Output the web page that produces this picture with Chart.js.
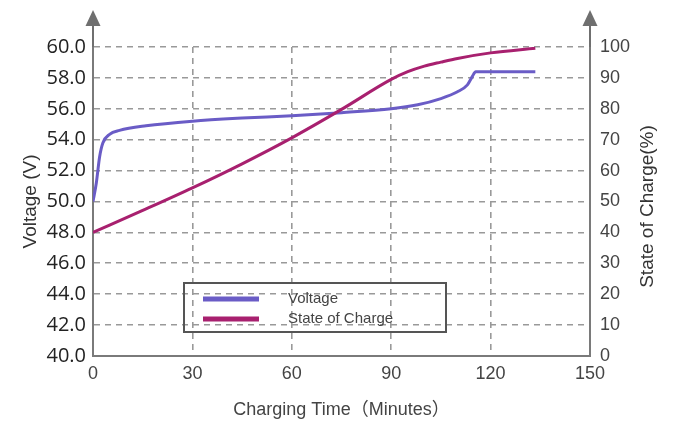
<!DOCTYPE html>
<html>
<head>
<meta charset="utf-8">
<title>Charging curve</title>
<script src="https://cdn.jsdelivr.net/npm/chart.js@4.4.1/dist/chart.umd.min.js"></script>
<style>
  html, body { margin: 0; padding: 0; background: #fff; }
  #wrap { width: 693px; height: 427px; position: relative; }
</style>
</head>
<body>
<div id="wrap"><canvas id="chart"></canvas></div>
<script>
// Datos
const voltTime = [0, 1, 2, 3, 5, 8, 16, 30, 45, 60, 75, 90, 98, 105, 110, 113, 114.5, 115.5, 133.5];
const voltage  = [50.0, 51.2, 52.9, 53.8, 54.35, 54.6, 54.9, 55.2, 55.4, 55.55, 55.75, 56.0, 56.26, 56.66, 57.1, 57.55, 58.1, 58.4, 58.4];

const socTime = [0, 15, 30, 45, 60, 75, 90, 95, 100, 105, 110, 120, 133.5];
const soc     = [40, 47.1, 54.4, 62.2, 70.6, 79.8, 89.5, 92.0, 93.8, 95.1, 96.3, 98.1, 99.6];

const seriesNames = ['Voltage', 'State of Charge'];
const seriesColors = ['#6a5cc6', '#a8206f'];
const rightTitle = 'State of Charge(%)';

const axisColor = '#7a7a7a';
const gridColor = '#999';

// Flechas en la parte superior de los ejes verticales
const axisArrows = {
  id: 'axisArrows',
  afterDraw(chart) {
    const { ctx, chartArea } = chart;
    ctx.save();
    ctx.strokeStyle = '#6f6f6f';
    ctx.fillStyle = '#6f6f6f';
    ctx.lineWidth = 2;
    [chartArea.left, chartArea.right].forEach(x => {
      ctx.beginPath();
      ctx.moveTo(x, chartArea.top);
      ctx.lineTo(x, 24);
      ctx.stroke();
      ctx.beginPath();
      ctx.moveTo(x - 7.5, 26);
      ctx.lineTo(x, 10);
      ctx.lineTo(x + 7.5, 26);
      ctx.closePath();
      ctx.fill();
    });
    // título del eje derecho, leído de abajo hacia arriba
    ctx.translate(648, (chartArea.top + chartArea.bottom) / 2 + 5);
    ctx.rotate(-Math.PI / 2);
    ctx.fillStyle = '#333';
    ctx.font = '19px "Liberation Sans", Arial, sans-serif';
    ctx.textAlign = 'center';
    ctx.textBaseline = 'middle';
    ctx.fillText(rightTitle, 0, 0);
    ctx.restore();
  }
};

// Leyenda dibujada dentro del área del gráfico
const boxLegend = {
  id: 'boxLegend',
  afterDraw(chart) {
    const ctx = chart.ctx;
    ctx.save();
    ctx.strokeStyle = '#555';
    ctx.lineWidth = 2;
    ctx.strokeRect(184, 283, 262, 49);
    ctx.font = '15px "Liberation Sans", Arial, sans-serif';
    ctx.textBaseline = 'middle';
    chart.data.datasets.forEach((ds, i) => {
      const y = 299 + i * 20;
      ctx.strokeStyle = ds.borderColor;
      ctx.lineWidth = 5;
      ctx.beginPath();
      ctx.moveTo(203, y);
      ctx.lineTo(259, y);
      ctx.stroke();
      ctx.fillStyle = '#444';
      ctx.fillText(ds.label, 288, y);
    });
    ctx.restore();
  }
};

new Chart(document.getElementById('chart'), {
  type: 'line',
  data: {
    datasets: [
      {
        label: seriesNames[0],
        data: voltTime.map((t, i) => ({ x: t, y: voltage[i] })),
        yAxisID: 'y',
        borderColor: seriesColors[0],
        borderWidth: 3,
        pointRadius: 0,
        cubicInterpolationMode: 'monotone',
        order: 2,
      },
      {
        label: seriesNames[1],
        data: socTime.map((t, i) => ({ x: t, y: soc[i] })),
        yAxisID: 'y2',
        borderColor: seriesColors[1],
        borderWidth: 3,
        pointRadius: 0,
        cubicInterpolationMode: 'monotone',
        order: 1,
      },
    ],
  },
  plugins: [axisArrows, boxLegend],
  options: {
    responsive: true,
    maintainAspectRatio: false,
    animation: false,
    layout: { padding: { top: 47, left: 0, right: 0, bottom: 0 } },
    plugins: { legend: { display: false }, tooltip: { enabled: false } },
    scales: {
      x: {
        type: 'linear',
        min: 0,
        max: 150,
        afterFit: scale => { scale.height = 71; },
        ticks: {
          stepSize: 30,
          padding: 7,
          color: '#444',
          font: { family: '"Liberation Sans", Arial, sans-serif', size: 18 },
        },
        grid: {
          drawTicks: false,
          color: ctx => (ctx.tick && (ctx.tick.value === 0 || ctx.tick.value === 150)) ? 'rgba(0,0,0,0)' : gridColor,
          lineWidth: 1.6,
        },
        border: { color: axisColor, width: 2, dash: [6, 5] },
        title: {
          display: true,
          text: 'Charging Time（Minutes）',
          color: '#444',
          font: { family: '"Liberation Sans", Arial, "Noto Sans CJK SC", sans-serif', size: 18 },
          padding: { top: 0, bottom: 6 },
        },
      },
      y: {
        position: 'left',
        min: 40,
        max: 60,
        afterFit: scale => { scale.width = 93; },
        ticks: {
          stepSize: 2,
          padding: 7,
          color: '#222',
          font: { family: '"Open Sans", sans-serif', size: 20 },
          callback: v => v.toFixed(1),
        },
        grid: {
          drawTicks: false,
          color: ctx => (ctx.tick && ctx.tick.value === 40) ? 'rgba(0,0,0,0)' : gridColor,
          lineWidth: 1.6,
        },
        border: { color: axisColor, width: 2, dash: [6, 5] },
        title: {
          display: true,
          text: 'Voltage (V)',
          color: '#333',
          font: { family: '"Liberation Sans", Arial, sans-serif', size: 19 },
          padding: { top: 19, bottom: 0 },
        },
      },
      y2: {
        position: 'right',
        min: 0,
        max: 100,
        afterFit: scale => { scale.width = 103; },
        ticks: {
          stepSize: 10,
          padding: 10,
          color: '#444',
          font: { family: '"Liberation Sans", Arial, sans-serif', size: 18 },
        },
        grid: { display: false, drawTicks: false },
        border: { color: axisColor, width: 2 },
      },
    },
  },
});
</script>
</body>
</html>
